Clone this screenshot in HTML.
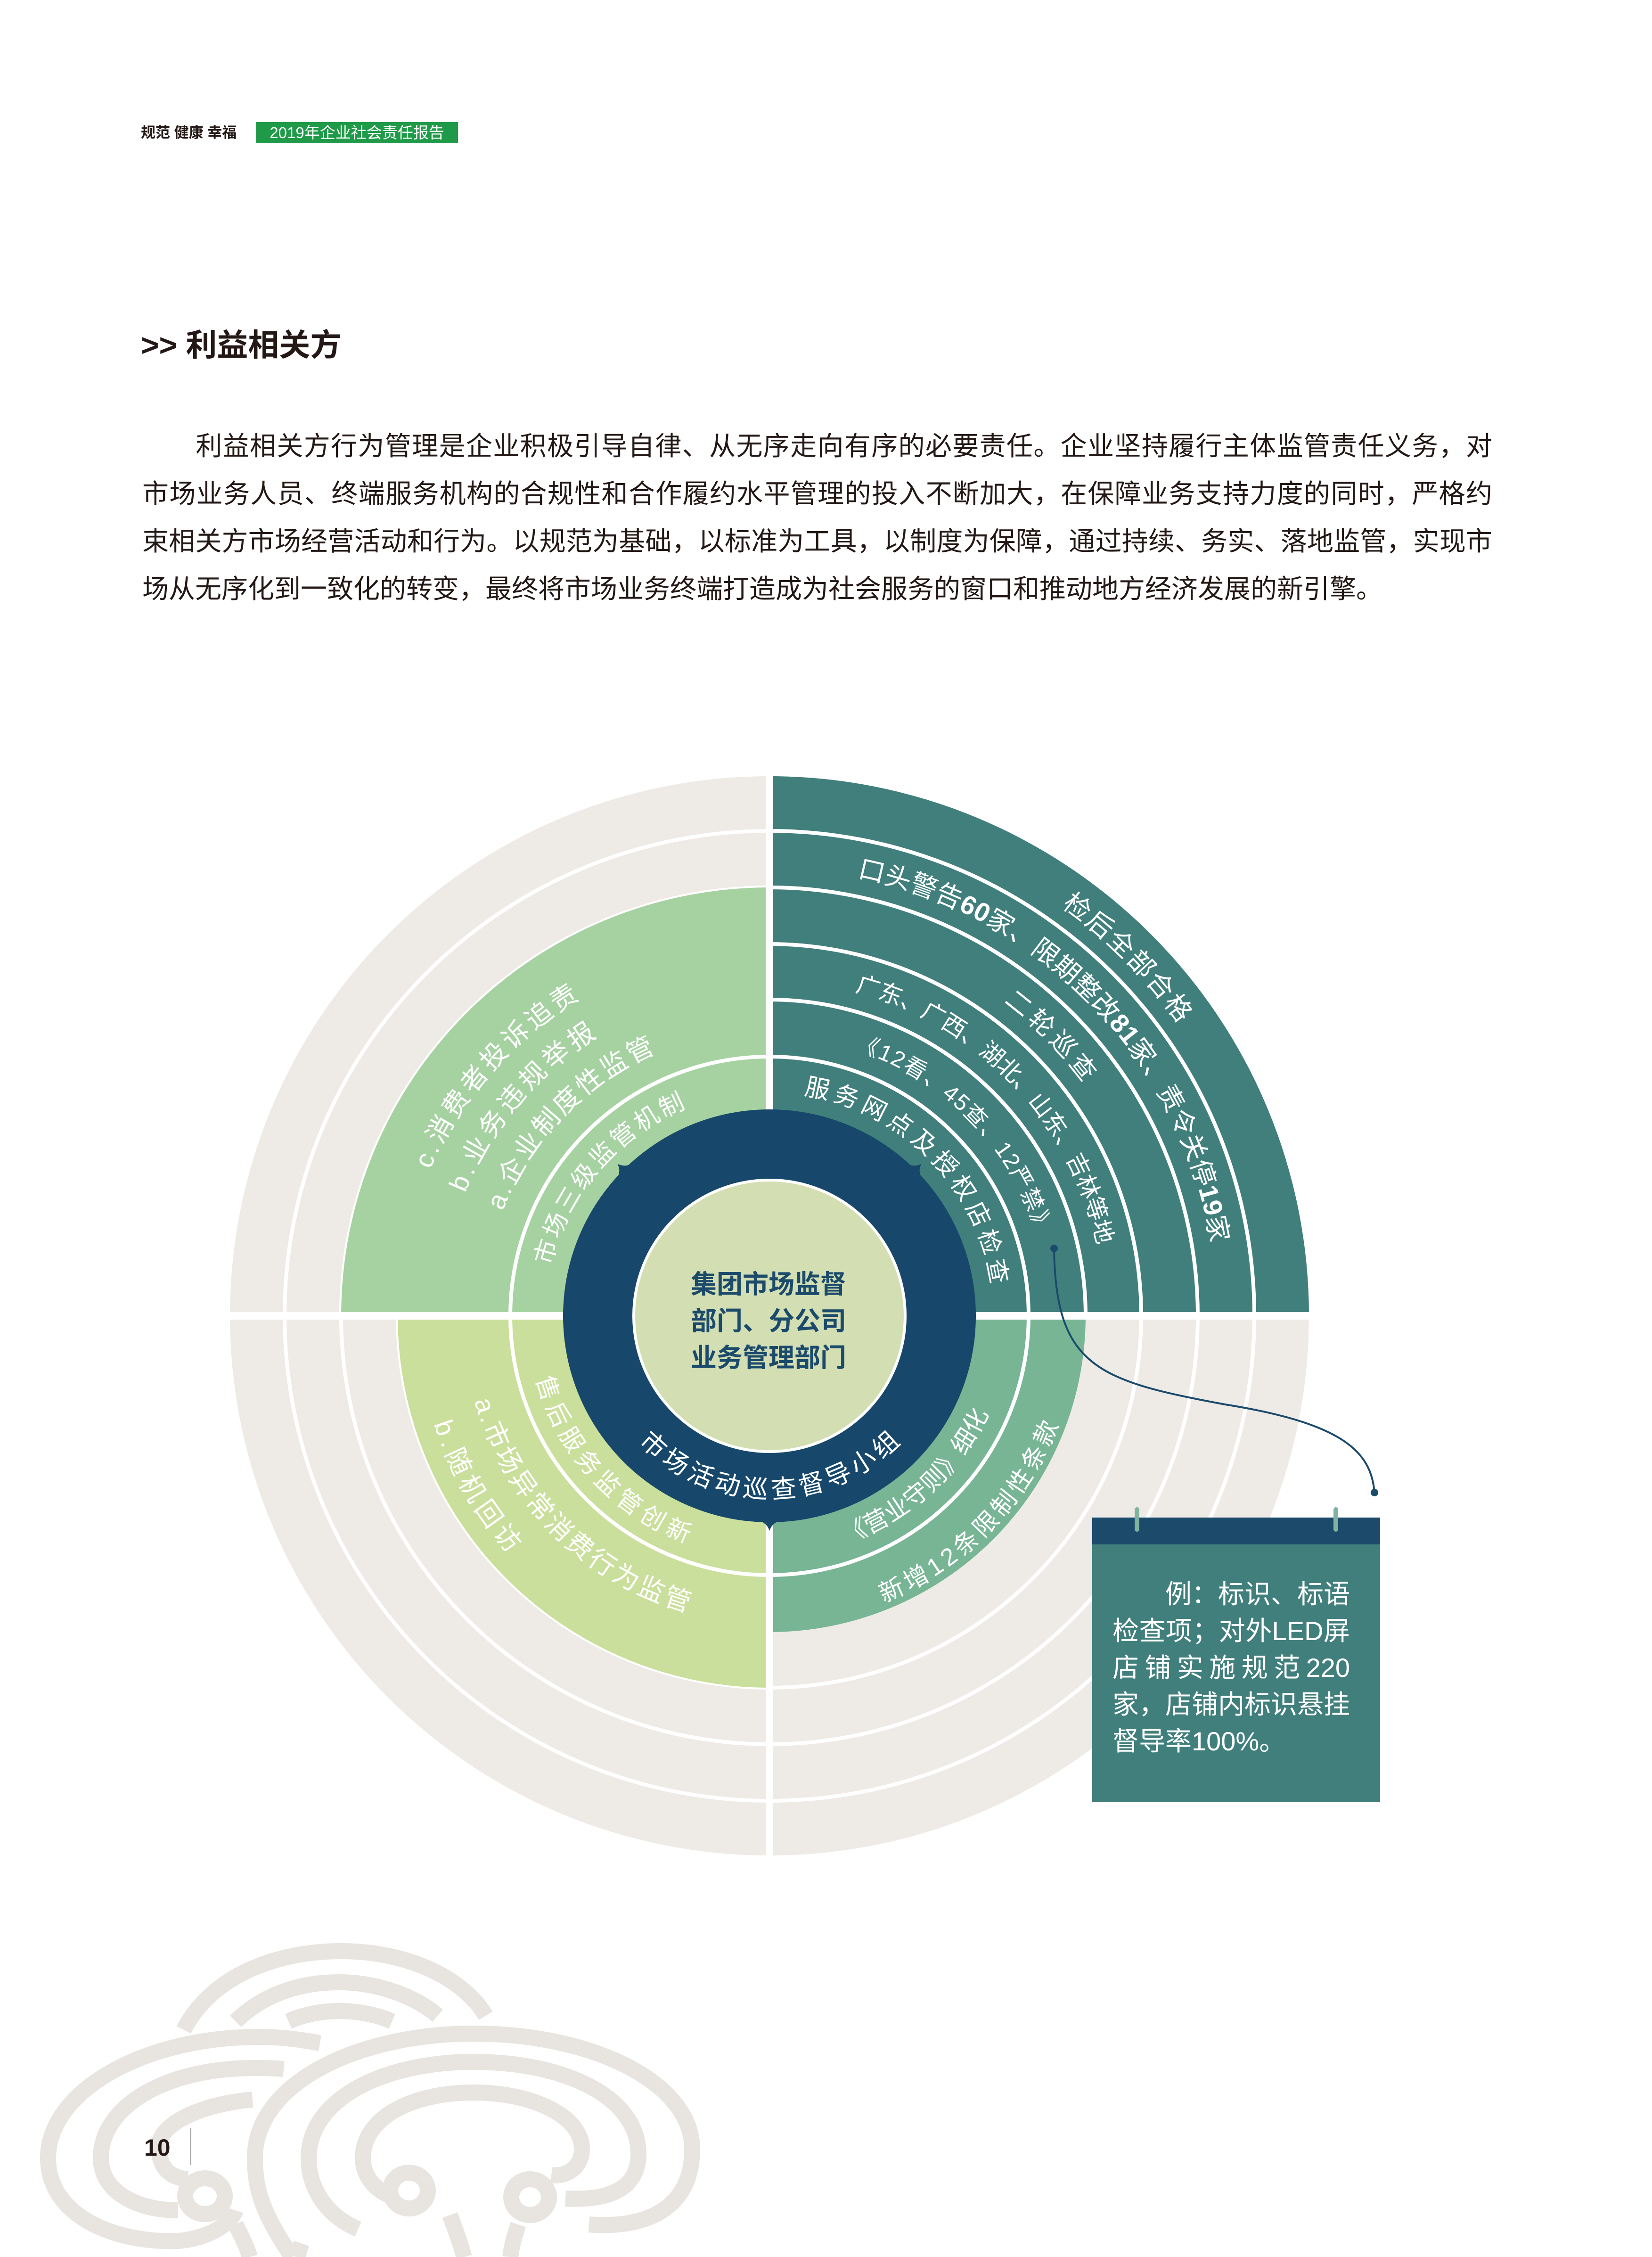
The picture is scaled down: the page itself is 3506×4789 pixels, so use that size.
<!DOCTYPE html>
<html><head><meta charset="utf-8"><style>
html,body{margin:0;padding:0;background:#fff;}
body{width:3506px;height:4789px;position:relative;overflow:hidden;font-family:"Liberation Sans","Noto Sans CJK SC",sans-serif;}
.abs{position:absolute;}
.p{position:absolute;left:302px;width:2865px;font-size:56px;color:#231815;white-space:nowrap;line-height:101px;}
.j{text-align:justify;text-align-last:justify;}
</style></head><body>
<div class="abs" style="left:299px;top:262px;font-size:31px;font-weight:bold;color:#231815;line-height:40px;">规范 健康 幸福</div>
<div class="abs" style="left:543px;top:259px;width:429px;height:45px;background:#1f9a48;color:#fff;font-size:33px;line-height:45px;text-align:center;">2019年企业社会责任报告</div>
<div class="abs" style="left:299px;top:692px;font-size:66px;font-weight:bold;color:#231815;line-height:80px;">&gt;&gt; 利益相关方</div>

<div class="p j" style="top:896px;"><span style="display:inline-block;width:112px"></span>利益相关方行为管理是企业积极引导自律、从无序走向有序的必要责任。企业坚持履行主体监管责任义务，对</div>
<div class="p j" style="top:997px;">市场业务人员、终端服务机构的合规性和合作履约水平管理的投入不断加大，在保障业务支持力度的同时，严格约</div>
<div class="p j" style="top:1098px;">束相关方市场经营活动和行为。以规范为基础，以标准为工具，以制度为保障，通过持续、务实、落地监管，实现市</div>
<div class="p" style="top:1199px;">场从无序化到一致化的转变，最终将市场业务终端打造成为社会服务的窗口和推动地方经济发展的新引擎。</div>

<svg class="abs" style="left:0;top:0" width="3506" height="4789" viewBox="0 0 3506 4789" xmlns="http://www.w3.org/2000/svg">
<defs>
<path id="cw1067" d="M1633 1725 A1067 1067 0 1 1 1633 3859 A1067 1067 0 1 1 1633 1725"/>
<path id="cw949" d="M1633 1843 A949 949 0 1 1 1633 3741 A949 949 0 1 1 1633 1843"/>
<path id="cw830" d="M1633 1962 A830 830 0 1 1 1633 3622 A830 830 0 1 1 1633 1962"/>
<path id="cw712" d="M1633 2080 A712 712 0 1 1 1633 3504 A712 712 0 1 1 1633 2080"/>
<path id="cw593" d="M1633 2199 A593 593 0 1 1 1633 3385 A593 593 0 1 1 1633 2199"/>
<path id="cw475" d="M1633 2317 A475 475 0 1 1 1633 3267 A475 475 0 1 1 1633 2317"/>
<path id="cw784" d="M1633 2008 A784 784 0 1 1 1633 3576 A784 784 0 1 1 1633 2008"/>
<path id="cw696" d="M1633 2096 A696 696 0 1 1 1633 3488 A696 696 0 1 1 1633 2096"/>
<path id="cw608" d="M1633 2184 A608 608 0 1 1 1633 3400 A608 608 0 1 1 1633 2184"/>
<path id="cc513" d="M1633 2279 A513 513 0 1 0 1633 3305 A513 513 0 1 0 1633 2279"/>
<path id="cc652" d="M1633 2140 A652 652 0 1 0 1633 3444 A652 652 0 1 0 1633 2140"/>
<path id="cc748" d="M1633 2044 A748 748 0 1 0 1633 3540 A748 748 0 1 0 1633 2044"/>
<path id="cc387" d="M1633 2405 A387 387 0 1 0 1633 3179 A387 387 0 1 0 1633 2405"/>
<path id="cc509" d="M1633 2283 A509 509 0 1 0 1633 3301 A509 509 0 1 0 1633 2283"/>
<path id="cc655" d="M1633 2137 A655 655 0 1 0 1633 3447 A655 655 0 1 0 1633 2137"/>
</defs>

<g fill="none" stroke="#e8e4df" stroke-width="34" stroke-linecap="butt">
<path d="M390 4307 C450 4190 590 4140 724 4140 C870 4140 985 4200 1031 4277"/>
<path d="M500 4289 C560 4230 640 4206 719 4206 C800 4206 880 4235 929 4277"/>
<path d="M612 4289 C650 4272 690 4267 719 4267 C760 4267 800 4275 832 4289"/>
<path d="M679 4335 C620 4325 590 4322 551 4322 C300 4322 102 4440 102 4579 C102 4700 240 4760 378 4755 C440 4750 490 4720 500 4690"/>
<path d="M602 4390 C580 4388 560 4388 540 4388 C350 4388 214 4470 214 4579 C214 4650 290 4690 378 4690"/>
<path d="M536 4455 C420 4465 337 4510 337 4554 C337 4600 360 4620 398 4624"/>
<ellipse cx="435" cy="4660" rx="42" ry="38"/>
<path d="M500 4720 C515 4750 525 4770 530 4789"/>
<path d="M620 4789 C560 4700 541 4650 541 4579 C541 4420 760 4315 1005 4315 C1260 4315 1469 4420 1469 4560 C1469 4680 1380 4730 1250 4720"/>
<path d="M760 4730 C690 4700 655 4640 655 4580 C655 4450 820 4375 1005 4375 C1200 4375 1355 4450 1355 4570 C1355 4640 1300 4670 1200 4665"/>
<path d="M830 4660 C780 4640 770 4600 770 4580 C770 4490 880 4440 1005 4440 C1130 4440 1235 4490 1235 4560 C1235 4600 1200 4620 1170 4615"/>
<ellipse cx="868" cy="4648" rx="40" ry="38"/>
<ellipse cx="1125" cy="4662" rx="40" ry="38"/>
<path d="M955 4700 C970 4740 980 4770 985 4789"/>
<path d="M1100 4720 C1090 4750 1085 4770 1083 4789"/>
<path d="M640 4760 C635 4775 633 4783 632 4789"/>
</g>
<line x1="405" y1="4516" x2="405" y2="4594" stroke="#9a9a9a" stroke-width="2"/>
<text x="306" y="4574" font-size="50" font-weight="bold" fill="#231815" font-family="Liberation Sans, sans-serif">10</text>

<circle cx="1633" cy="2792" r="1145" fill="#eeeae6"/>
<g fill="none" stroke="#fff" stroke-width="8">
<circle cx="1633" cy="2792" r="1029"/><circle cx="1633" cy="2792" r="909"/><circle cx="1633" cy="2792" r="789"/>
</g>
<path d="M1633 2792 L1633 1647 A1145 1145 0 0 1 2778 2792 Z" fill="#417f7d"/>
<path d="M1633 2792 L724 2792 A909 909 0 0 1 1633 1883 Z" fill="#a6d2a2"/>
<path d="M1633 2792 L1633 3581 A789 789 0 0 1 844 2792 Z" fill="#c9df9b"/>
<path d="M1633 2792 L2304 2792 A671 671 0 0 1 1633 3463 Z" fill="#78b595"/>
<g fill="none" stroke="#fff" stroke-width="8">
<path d="M1633 1763 A1029 1029 0 0 1 2662 2792"/>
<path d="M1633 1883 A909 909 0 0 1 2542 2792"/>
<path d="M1633 2003 A789 789 0 0 1 2422 2792"/>
<path d="M1633 2121 A671 671 0 0 1 2304 2792"/>
<circle cx="1633" cy="2792" r="550"/>
</g>
<rect x="1625" y="1640" width="16" height="2304" fill="#fff"/>
<rect x="481" y="2784" width="2304" height="16" fill="#fff"/>
<circle cx="1633" cy="2792" r="438" fill="#17486b"/>
<g fill="#17486b">
<path d="M-24 3 Q-6 0 0 -18 Q6 0 24 3 Z" transform="translate(1633 2792) rotate(-45) translate(0 -438)"/>
<path d="M-24 3 Q-6 0 0 -18 Q6 0 24 3 Z" transform="translate(1633 2792) rotate(45) translate(0 -438)"/>
<path d="M-24 3 Q-6 0 0 -18 Q6 0 24 3 Z" transform="translate(1633 2792) rotate(180) translate(0 -438)"/>
</g>
<circle cx="1633" cy="2792" r="288" fill="#d3dfb3" stroke="#fff" stroke-width="6"/>
<g font-size="55" font-weight="bold" fill="#1b4a6b" font-family="Liberation Sans, Noto Sans CJK SC, sans-serif">
<text x="1466" y="2744">集团市场监督</text>
<text x="1466" y="2822">部门、分公司</text>
<text x="1466" y="2900">业务管理部门</text>
</g>

<g fill="#fff" font-family="Liberation Sans, Noto Sans CJK SC, sans-serif">
<text font-size="56"><textPath href="#cw1067" startOffset="661" textLength="354" lengthAdjust="spacing">检后全部合格</textPath></text>
<text font-size="56"><textPath href="#cw949" startOffset="187" textLength="1149" lengthAdjust="spacing">口头警告<tspan font-weight="bold">60</tspan>家、限期整改<tspan font-weight="bold">81</tspan>家、责令关停<tspan font-weight="bold">19</tspan>家</textPath></text>
<text font-size="54"><textPath href="#cw830" startOffset="532" textLength="242" lengthAdjust="spacing">二轮巡查</textPath></text>
<text font-size="50"><textPath href="#cw712" startOffset="183" textLength="784" lengthAdjust="spacing">广东、广西、湖北、山东、吉林等地</textPath></text>
<text font-size="48"><textPath href="#cw593" startOffset="183" textLength="576" lengthAdjust="spacing">《12看、45查、12严禁》</textPath></text>
<text font-size="52"><textPath href="#cw475" startOffset="73" textLength="607" lengthAdjust="spacing">服务网点及授权店检查</textPath></text>
<text font-size="56"><textPath href="#cw784" startOffset="4013" textLength="490" lengthAdjust="spacing">c.消费者投诉追责</textPath></text>
<text font-size="56"><textPath href="#cw696" startOffset="3546" textLength="442" lengthAdjust="spacing">b.业务违规举报</textPath></text>
<text font-size="56"><textPath href="#cw608" startOffset="3092" textLength="480" lengthAdjust="spacing">a.企业制度性监管</textPath></text>
<text font-size="52"><textPath href="#cw475" startOffset="2345" textLength="458" lengthAdjust="spacing">市场三级监管机制</textPath></text>
<text font-size="52"><textPath href="#cc513" startOffset="941" textLength="491" lengthAdjust="spacing">售后服务监管创新</textPath></text>
<text font-size="56"><textPath href="#cc652" startOffset="1207" textLength="665" lengthAdjust="spacing">a.市场异常消费行为监管</textPath></text>
<text font-size="56"><textPath href="#cc748" startOffset="1408" textLength="321" lengthAdjust="spacing">b.随机回访</textPath></text>
<text font-size="54"><textPath href="#cc387" startOffset="905" textLength="621" lengthAdjust="spacing">市场活动巡查督导小组</textPath></text>
<text font-size="52"><textPath href="#cc509" startOffset="1764" textLength="421" lengthAdjust="spacing">《营业守则》细化</textPath></text>
<text font-size="52"><textPath href="#cc655" startOffset="2306" textLength="544" lengthAdjust="spacing">新增12条限制性条款</textPath></text>
</g>

<path d="M2237 2649 C2240 2900 2330 2930 2600 2980 C2850 3020 2910 3080 2917 3167" fill="none" stroke="#1b4a6b" stroke-width="4"/>
<circle cx="2237" cy="2649" r="8" fill="#1b4a6b"/>
<circle cx="2917" cy="3167" r="8" fill="#1b4a6b"/>

<rect x="2318" y="3220" width="611" height="604" fill="#417f7d"/>
<rect x="2318" y="3220" width="611" height="57" fill="#1b4a6b"/>
<rect x="2408" y="3198" width="10" height="52" rx="5" fill="#7fb3a0"/>
<rect x="2830" y="3198" width="10" height="52" rx="5" fill="#7fb3a0"/>
</svg>
<div class="abs" style="left:2361px;top:3344px;width:504px;font-size:56px;line-height:78px;color:#fff;">
<div style="text-align:right;">例：标识、标语</div>
<div class="j">检查项；对外LED屏</div>
<div class="j">店铺实施规范220</div>
<div class="j">家，店铺内标识悬挂</div>
<div>督导率100%。</div>
</div>
</body></html>
